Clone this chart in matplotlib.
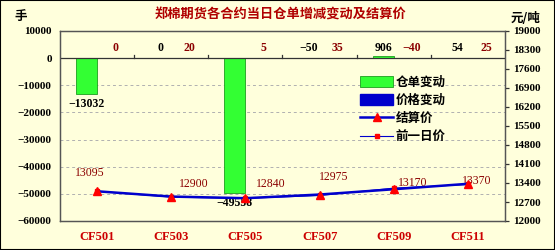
import matplotlib.pyplot as plt
import numpy as np
from matplotlib.lines import Line2D
from matplotlib.patches import Patch, Rectangle

plt.rcParams['font.family'] = ['Noto Sans CJK SC', 'DejaVu Sans']

# ---------------- data ----------------
contracts = ["CF501", "CF503", "CF505", "CF507", "CF509", "CF511"]
receipt_change = [-13032, 0, -49558, -50, 906, 54]      # 仓单变动 (手)
price_change = [0, 20, 5, 35, -40, 25]                  # 价格变动 (元/吨)
settle_price = [13095, 12900, 12840, 12975, 13170, 13370]  # 结算价
prev_price = [13095, 12880, 12835, 12940, 13210, 13345]    # 前一日价

# label offsets for settlement price (points)
price_lbl_off = [(-5, 9), (16, 5), (18, 6), (10, 8), (14, 0), (6, -2)]

bg = "#FFFFDC"
dark_red = "#8B0000"
green = "#33FF33"
blue = "#0000CC"
num_font = "Liberation Serif"

fig = plt.figure(figsize=(5.55, 2.5), dpi=100, facecolor=bg)
ax = fig.add_axes([60 / 555, 1 - 221 / 250, 445 / 555, 190 / 250], facecolor=bg)
ax2 = ax.twinx()

x = np.arange(len(contracts))
w = 0.285

# bars: green left of centre, blue right of centre
ax.bar(x - w / 2, receipt_change, w, color=green, edgecolor="#1E9E1E", linewidth=0.6, zorder=3)
ax.bar(x + w / 2, price_change, w, color=blue, edgecolor=blue, linewidth=0.6, zorder=3)

ax.set_xlim(-0.5, len(contracts) - 0.5)
ax.set_ylim(-60000, 10000)
ax.set_yticks(range(-60000, 10001, 10000))
ax.set_yticklabels([f"{v}".replace("-", "\u2212") for v in range(-60000, 10001, 10000)],
                   fontfamily=num_font, fontweight="bold", fontsize=8)
ax.tick_params(axis="y", length=0, pad=6)
for v in range(-50000, 0, 10000):
    ax.axhline(v, color="#B0B0B0", linestyle=(0, (3, 3)), linewidth=0.7, zorder=1)

ax.set_xticks(x)
ax.set_xticklabels(contracts, fontfamily=num_font, fontweight="bold", fontsize=9, color="#CC0000")
ax.tick_params(axis="x", length=0, pad=7)

# zero line with category boundary ticks
ax.axhline(0, color="#333333", linewidth=0.9, zorder=4)
for b in x[1:] - 0.5:
    ax.plot([b, b], [0, 1300], color="#333333", linewidth=0.9, zorder=4)

for s in ax.spines.values():
    s.set_color("#555555")
    s.set_linewidth(0.9)

# bar labels
for i, v in enumerate(receipt_change):
    if v < -5000:
        ax.text(x[i] - w / 2, v - 1500, f"{v}".replace("-", "\u2212"), ha="center", va="top",
                fontfamily=num_font, fontweight="bold", fontsize=8.5, color="black", zorder=6)
    else:
        ax.text(x[i] - w / 2, 3800, f"{v}".replace("-", "\u2212"), ha="center", va="center",
                fontfamily=num_font, fontweight="bold", fontsize=8.5, color="black", zorder=6)
for i, v in enumerate(price_change):
    ax.text(x[i] + w / 2 + 0.1, 3800, f"{v}".replace("-", "\u2212"), ha="center", va="center",
            fontfamily=num_font, fontweight="bold", fontsize=8.5, color=dark_red, zorder=6)

# prices on right axis
ax2.plot(x, prev_price, color=blue, linewidth=0.8, marker="s", markersize=2.5,
         markerfacecolor="red", markeredgecolor="red", zorder=5)
ax2.plot(x, settle_price, color=blue, linewidth=1.8, marker="^", markersize=6,
         markerfacecolor="red", markeredgecolor="red", zorder=6)
for i, v in enumerate(settle_price):
    ax2.annotate(str(v), (x[i], v), xytext=price_lbl_off[i], textcoords="offset points",
                 ha="center", va="bottom", fontfamily=num_font, fontsize=8.5, color=dark_red)
ax2.set_ylim(12000, 19000)
ax2.set_yticks(range(12000, 19001, 700))
ax2.set_yticklabels([str(v) for v in range(12000, 19001, 700)],
                    fontfamily=num_font, fontweight="bold", fontsize=8)
ax2.tick_params(axis="y", length=3, width=0.9, color="#333333", pad=3)
for s in ax2.spines.values():
    s.set_color("#555555")
    s.set_linewidth(0.9)

# legend
handles = [
    Patch(facecolor=green, edgecolor="#1E9E1E", linewidth=0.6),
    Patch(facecolor=blue, edgecolor=blue),
    Line2D([], [], color=blue, linewidth=1.8, marker="^", markersize=6,
           markerfacecolor="red", markeredgecolor="red"),
    Line2D([], [], color=blue, linewidth=0.8, marker="s", markersize=2.5,
           markerfacecolor="red", markeredgecolor="red"),
]
labels = ["仓单变动", "价格变动", "结算价", "前一日价"]
leg = ax2.legend(handles, labels, loc="upper left", bbox_to_anchor=(0.675, 0.765),
                 frameon=False, borderpad=0, borderaxespad=0, handlelength=2.6,
                 handleheight=0.9, handletextpad=0.25, labelspacing=0.42,
                 prop={"family": "Noto Sans CJK SC", "weight": "bold", "size": 9})

# titles / unit labels
fig.text(0.505, 0.94, "郑棉期货各合约当日仓单增减变动及结算价", ha="center", va="center",
         fontsize=9.5, fontweight="bold", color="#B00000")
fig.text(0.038, 0.935, "手", ha="center", va="center", fontsize=9, fontweight="bold")
fig.text(0.947, 0.925, "元/吨", ha="center", va="center", fontsize=9, fontweight="bold")

fig.patches.append(Rectangle((0, 0), 1, 1, transform=fig.transFigure, fill=False,
                             edgecolor="black", linewidth=1.5))

fig.savefig("out.png", dpi=100, facecolor=bg)
